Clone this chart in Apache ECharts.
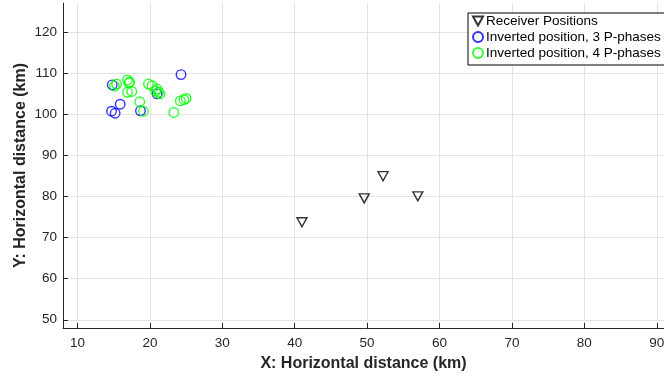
<!DOCTYPE html>
<html>
<head>
<meta charset="utf-8">
<script src="https://cdn.jsdelivr.net/npm/echarts@6/dist/echarts.min.js"></script>
<style>
  html, body { margin: 0; padding: 0; background: #fff; }
  #chart { width: 664px; height: 378px; }
</style>
</head>
<body>
<div id="chart"></div>
<script>
// Receiver stations [x km, y km]
const receiverPositions = [
  [41.0, 73.7],
  [49.6, 79.5],
  [52.2, 84.9],
  [57.0, 80.0]
];

// Hypocentre inversions using three P-phase picks [x km, y km]
const inverted3P = [
  [24.3, 109.6],
  [14.8, 107.1],
  [15.9, 102.4],
  [14.7, 100.7],
  [15.2, 100.2],
  [18.7, 100.8],
  [21.0, 104.9]
];

// Hypocentre inversions using four P-phase picks [x km, y km]
const inverted4P = [
  [15.4, 107.3],
  [15.1, 106.8],
  [16.9, 108.3],
  [17.2, 107.8],
  [17.1, 107.6],
  [16.9, 105.3],
  [17.5, 105.5],
  [19.8, 107.3],
  [20.3, 106.9],
  [21.0, 106.1],
  [21.2, 105.3],
  [20.8, 105.6],
  [21.4, 104.9],
  [18.6, 103.0],
  [19.1, 100.7],
  [24.2, 103.2],
  [24.7, 103.5],
  [25.0, 103.8],
  [23.3, 100.4]
];

// Tick positions
const xTicks = [10, 20, 30, 40, 50, 60, 70, 80, 90];
const yTicks = [50, 60, 70, 80, 90, 100, 110, 120];

const seriesNames = [
  'Receiver Positions',
  'Inverted position, 3 P-phases',
  'Inverted position, 4 P-phases'
];

const axisColor = '#262626';
const gridColor = '#e3e3e3';
const fontFamily = 'Liberation Sans, Arial, sans-serif';
const downTriangle = 'path://M0,0 L10,0 L5,9 Z';

function valueAxis(min, max, ticks, name, nameGap, labelMargin) {
  return {
    type: 'value',
    min: min,
    max: max,
    name: name,
    nameLocation: 'middle',
    nameGap: nameGap,
    nameMoveOverlap: false,
    nameTextStyle: {
      fontFamily: fontFamily,
      fontWeight: 'bold',
      fontSize: 16,
      color: axisColor
    },
    axisLine: { show: true, onZero: false, lineStyle: { color: axisColor, width: 1 } },
    axisTick: {
      show: true,
      inside: true,
      length: 5,
      customValues: ticks,
      lineStyle: { color: axisColor, width: 1 }
    },
    axisLabel: {
      customValues: ticks,
      fontFamily: fontFamily,
      fontSize: 13.5,
      color: axisColor,
      margin: labelMargin
    },
    splitLine: { show: true, lineStyle: { color: gridColor, width: 1 } }
  };
}

const chart = echarts.init(document.getElementById('chart'), null, { renderer: 'canvas' });

chart.setOption({
  animation: false,
  backgroundColor: '#ffffff',
  grid: {
    left: 63, right: 0, top: 3, bottom: 50,
    containLabel: false,
    outerBoundsMode: 'none'
  },
  xAxis: valueAxis(8, 91, xTicks, 'X: Horizontal distance (km)', 28, 8),
  yAxis: valueAxis(48, 127, yTicks, 'Y: Horizontal distance (km)', 34, 6),
  legend: {
    orient: 'vertical',
    left: 468,
    top: 13,
    padding: [1, 20, 5, 4],
    itemGap: 2,
    itemWidth: 10,
    itemHeight: 10,
    backgroundColor: '#ffffff',
    borderColor: '#000000',
    borderWidth: 1,
    borderRadius: 0,
    textStyle: {
      fontFamily: fontFamily,
      fontSize: 13.5,
      color: '#000000',
      padding: [0, 0, 0, -2]
    },
    data: seriesNames
  },
  series: [
    {
      name: seriesNames[0],
      type: 'scatter',
      data: receiverPositions,
      symbol: downTriangle,
      symbolSize: [10, 9],
      itemStyle: { color: 'rgba(0,0,0,0)', borderColor: '#000000', borderWidth: 1.4 },
      z: 3
    },
    {
      name: seriesNames[1],
      type: 'scatter',
      data: inverted3P,
      symbol: 'circle',
      symbolSize: 9.5,
      itemStyle: { color: 'rgba(0,0,0,0)', borderColor: '#0000ff', borderWidth: 1.4 },
      z: 4
    },
    {
      name: seriesNames[2],
      type: 'scatter',
      data: inverted4P,
      symbol: 'circle',
      symbolSize: 9.5,
      itemStyle: { color: 'rgba(0,0,0,0)', borderColor: '#00ff00', borderWidth: 1.4 },
      z: 5
    }
  ]
});
</script>
</body>
</html>
